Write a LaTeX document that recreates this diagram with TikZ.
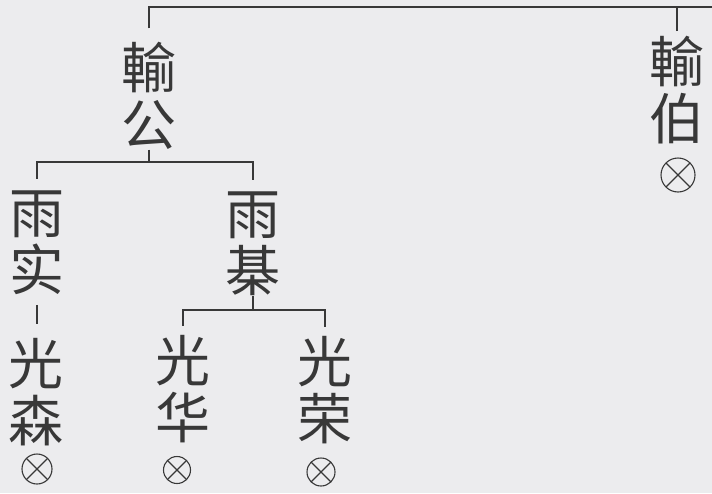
\documentclass[tikz,border=0pt]{standalone}
\usepackage{fontspec}
\usepackage{tikz}
\newfontfamily\cjk{Noto Sans CJK SC}
\definecolor{carta}{rgb}{0.925,0.925,0.935}
\definecolor{matita}{rgb}{0.22,0.22,0.22}

\begin{document}
\begin{tikzpicture}[x=1pt, y=-1pt,
  persona/.style={inner sep=0pt, outer sep=0pt, align=center, text=matita,
    font=\cjk\fontsize{55}{57}\selectfont},
  linea/.style={draw=matita, line width=1.1pt},
  morto/.style={circle, linea, inner sep=0pt, minimum size=28pt,
    path picture={\draw[linea]
      (path picture bounding box.north west) -- (path picture bounding box.south east)
      (path picture bounding box.north east) -- (path picture bounding box.south west);}}
]

% Foglio
\fill[carta] (0,0) rectangle (712,493);
\useasboundingbox (0,0) rectangle (712,493);

% Prima generazione
\node[persona] (shugong) at (149,96) {輸\\公};
\node[persona] (shubo) at (677,90) {輸\\伯};
\node[morto, minimum size=34pt] (shubox) at (678,175) {};

% Seconda generazione
\node[persona] (yushi) at (37,243) {雨\\实};
\node[persona] (yuqi) at (253,244) {雨\\棊};

% Terza generazione
\node[persona] (guangsen) at (36,392) {光\\森};
\node[persona] (guanghua) at (183,389) {光\\华};
\node[persona] (guangrong) at (325,390) {光\\荣};
\node[morto, minimum size=30pt] (guangsenx) at (37,469) {};
\node[morto, minimum size=27pt] (guanghuax) at (177,470) {};
\node[morto] (guangrongx) at (321,472) {};

% Punti di diramazione
\coordinate (bordo) at (712,7);
\coordinate (fork1) at (149,162);
\coordinate (fork2) at (253,310);

\draw[linea, shorten <=14pt] (shugong.north) |- (bordo);
\draw[linea, shorten <=5pt] (shubo.north) -- (shubo.north |- bordo);
\draw[linea] (shugong.south) -- (fork1);
\draw[linea, shorten >=12pt] (fork1) -| (yushi.north);
\draw[linea, shorten >=12pt] (fork1) -| (yuqi.north);
\draw[linea, shorten <=10pt, shorten >=14pt] (yushi.south) -- (yushi.south |- guangsen.north);
\draw[linea] (yuqi.south) -- (fork2);
\draw[linea, shorten >=9pt] (fork2) -| (guanghua.north);
\draw[linea, shorten >=9pt] (fork2) -| (guangrong.north);

\end{tikzpicture}
\end{document}
